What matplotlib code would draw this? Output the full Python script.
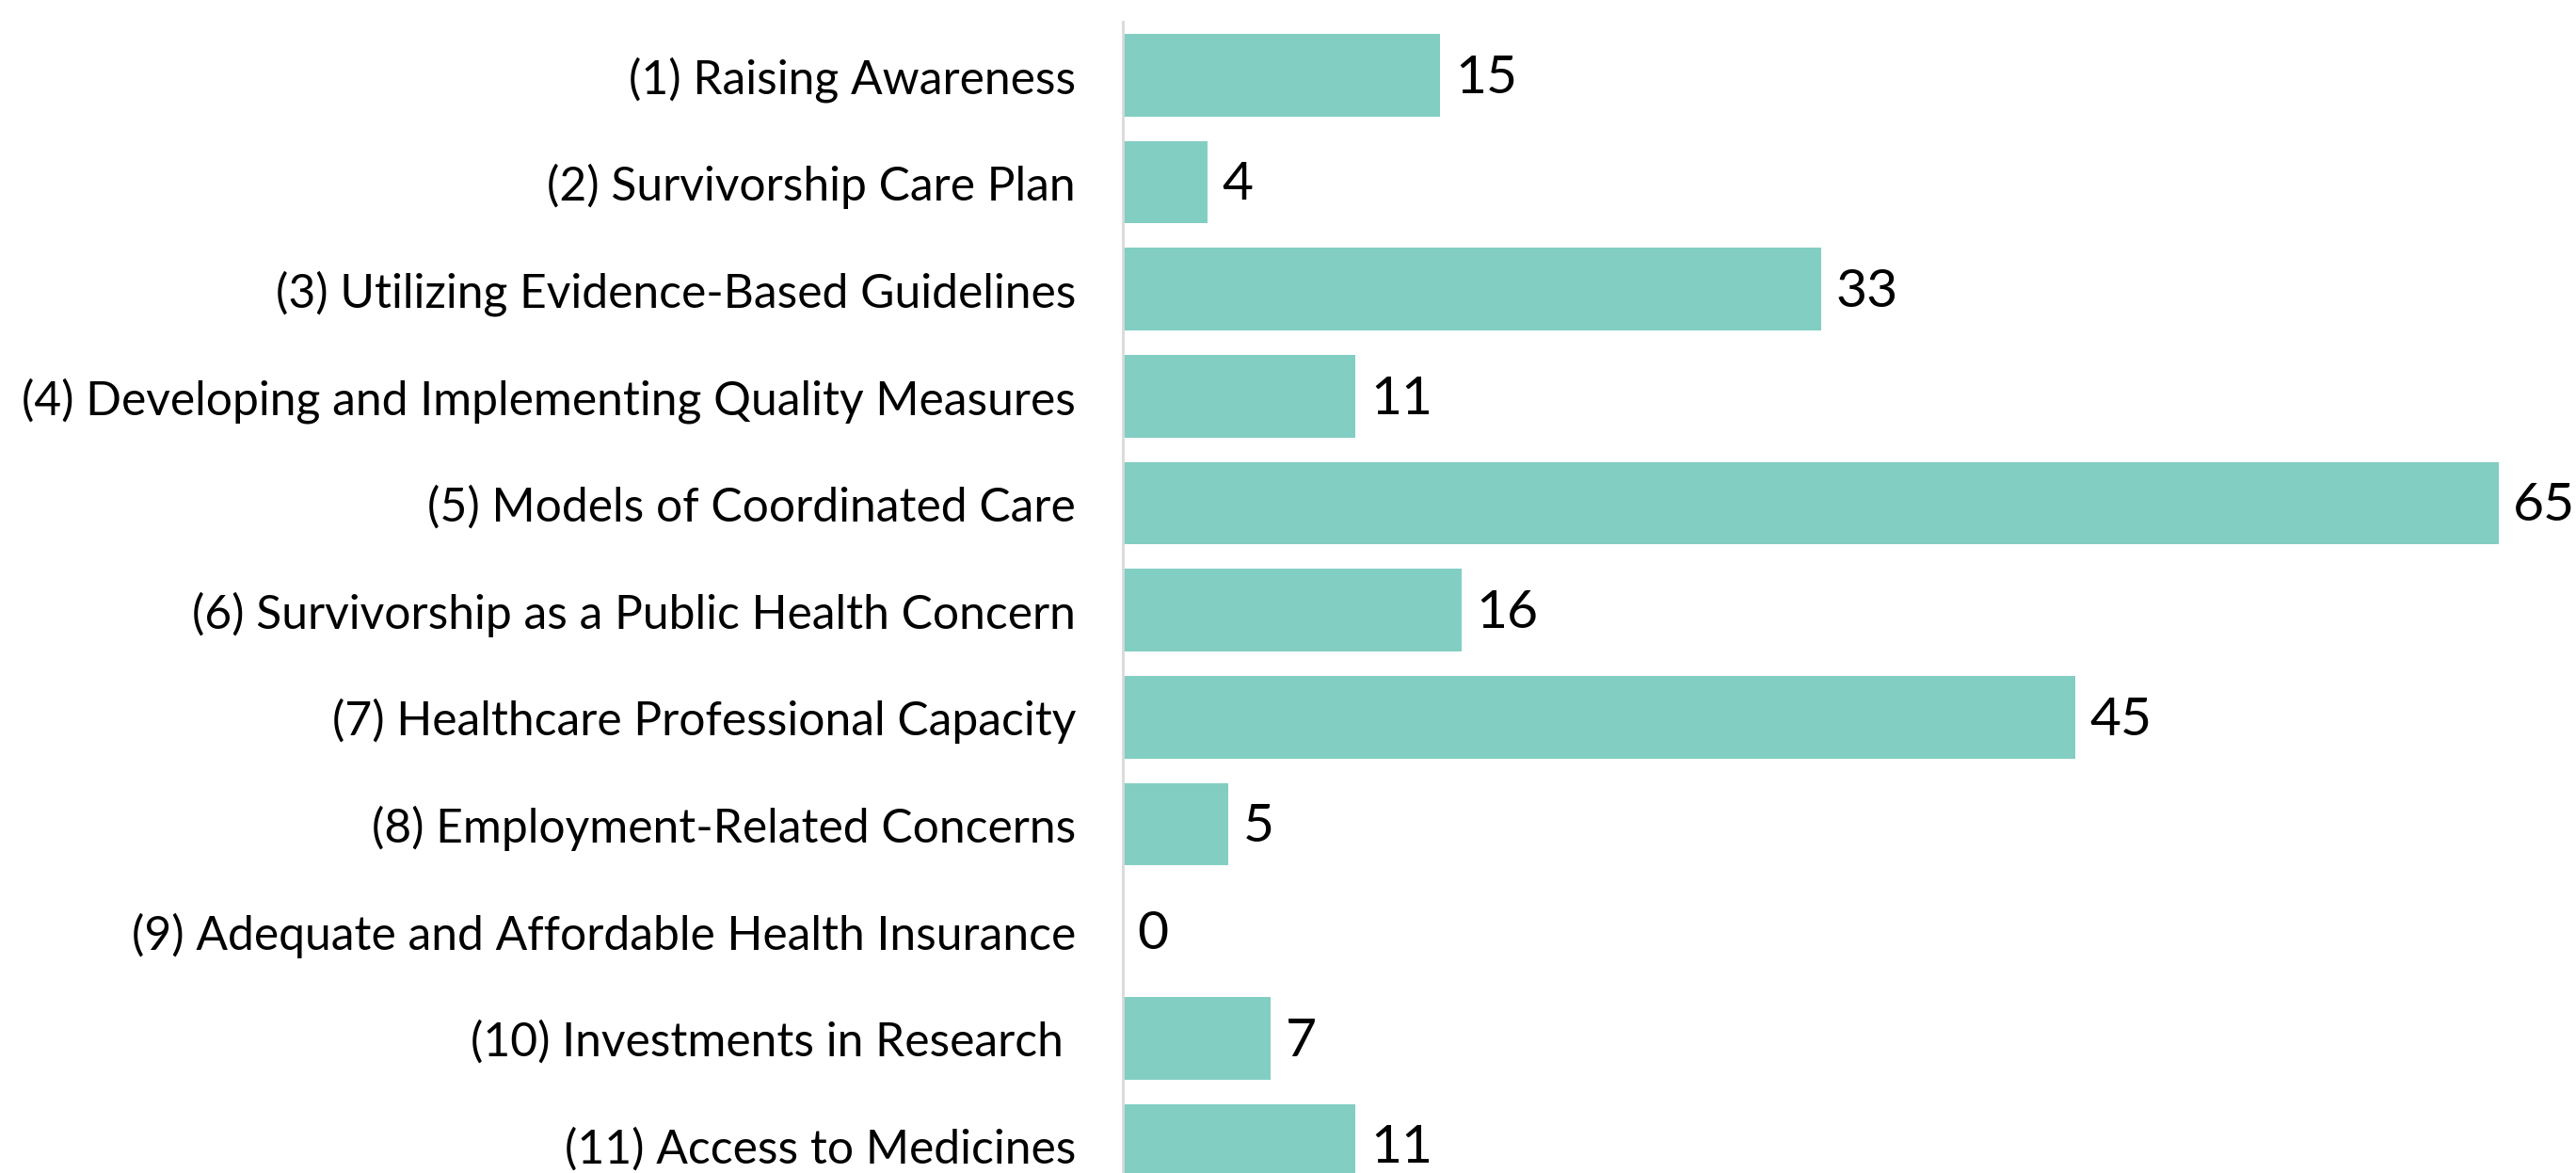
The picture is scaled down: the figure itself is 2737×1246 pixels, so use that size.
import numpy as np
import matplotlib
matplotlib.use("Agg")
import matplotlib.pyplot as plt

## data
categories = [
    "(1) Raising Awareness",
    "(2) Survivorship Care Plan",
    "(3) Utilizing Evidence-Based Guidelines",
    "(4) Developing and Implementing Quality Measures",
    "(5) Models of Coordinated Care",
    "(6) Survivorship as a Public Health Concern",
    "(7) Healthcare Professional Capacity",
    "(8) Employment-Related Concerns",
    "(9) Adequate and Affordable Health Insurance",
    "(10) Investments in Research ",
    "(11) Access to Medicines",
]
counts = [15, 4, 33, 11, 65, 16, 45, 5, 0, 7, 11]

plt.rcParams['font.family'] = ['Lato', 'DejaVu Sans']

W, H = 2737, 1246
fig = plt.figure(figsize=(W / 100, H / 100), dpi=100)
# axes placed in pixel terms
left, top = 1193, 23
ax = fig.add_axes([left / W, 0, (2722 - left) / W, (H - top) / H])

y = np.arange(len(categories))
ax.barh(y, counts, height=0.77, color="#82CEC2")
ax.set_xlim(0, 68)
ax.set_ylim(10.26, -0.5)

for yi, v in zip(y, counts):
    ax.text(v + 0.7, yi + 0.03, str(v), va="center", ha="left", fontsize=41,
            clip_on=False)

ax.set_yticks(y)
ax.set_yticklabels(categories, fontsize=35.8)
ax.tick_params(axis="y", length=0, pad=36)
ax.set_xticks([])
for s in ["top", "right", "bottom"]:
    ax.spines[s].set_visible(False)
ax.spines["left"].set_color("#D9D9D9")
ax.spines["left"].set_linewidth(2)

fig.savefig("out.png", dpi=100)
